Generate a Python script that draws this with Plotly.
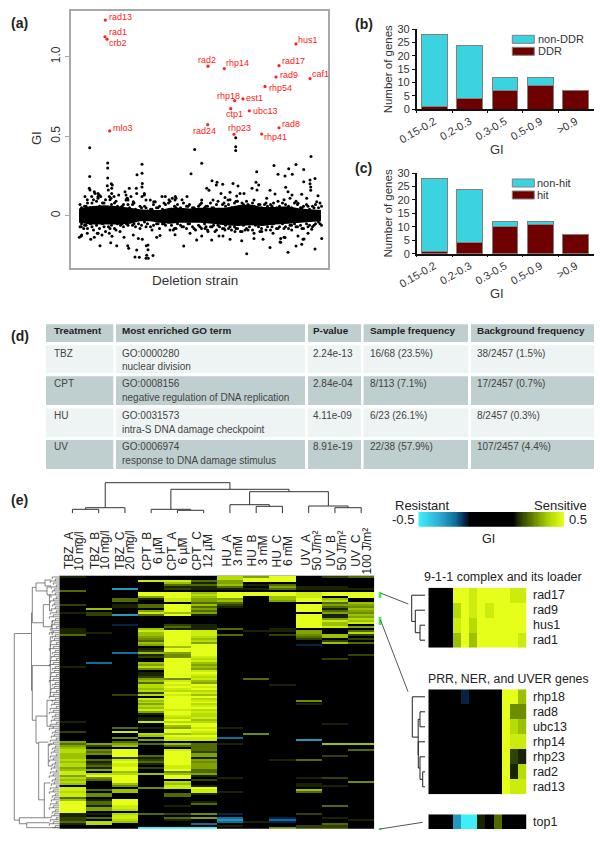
import numpy as np
import plotly.graph_objects as go

W, H = 600, 843
FONT = "Liberation Sans"

# ---------- (a) scatter data: strain position and GI ----------
labelled_genes = ["rad13","rad1","crb2","mlo3","rad2","rhp14","hus1","rad17","rad9","caf1","rhp54","rhp18","est1","ctp1","ubc13","rad8","rad24","rhp23","rhp41"]
labelled_x = [105.3,105,107,109.7,208,224.3,296,279,276,310,265,234.7,243,230.7,249.3,279,207.7,234,261.7]
labelled_gi = [1.23,1.125,1.11,0.533,0.94,0.925,1.08,0.943,0.872,0.862,0.813,0.723,0.734,0.673,0.659,0.553,0.572,0.512,0.513]

sparse_x = [89.7,107.7,107.7,89.7,107.3,111.3,194.7,201.7,235.7,235.7,235.7,311,191,142,142,137,274,296,288.7,292.3,303.7,278,285,256.7,256,258.7,303.7,315,310,310,310.7,310.7,318,
 107.7,112.3,142.3,142,136.3,129.3,111.7,89.3,108.3,90,94.3,95,111.7,144.3,125,136.7,126,144.3,91.7,99.3,118.7,114,98,100.7,98,127.3,131,127,126,109.3,111,85,87.3,165.3,175.3,176,187,162,128,133.3,150.3,153.7,169,172.3,146,155.3,142,175,206.7,209,212,217,216.3,222.7,233,238,252,257,221,230,240,244,270,275,285.7,288,292,301.7,306.7,316.7,228,225,201.7,213,236.7,254,266.7,298,
 81,135,146,153,148,148,183.7,246.7,315,288,270,296,301.7,304,280.7,280.7,285,79.3,81.7,83.7,81.3,87.3,90.7,94.3,97.3,100,102,109.3,110.7,116.7,120,124,127.7,128.7,133.3,138.3,139.3,148.3,146.7,146.3,136.7,142.3,156.7,173.3,196.7,201.7,208,211.7,215,219,223,230,241.7,254,263,280,284,298,303,321.7,308,273,235,225,245,261.7,291.7,311.7,205,190,175,160,112]
sparse_gi = [.427,.331,.30,.247,.188,.20,.416,.33,.49,.433,.41,.372,.264,.324,.266,.257,.316,.322,.295,.26,.29,.26,.25,.276,.21,.193,.213,.234,.224,.20,.18,.16,.125,
 .237,.193,.203,.18,.172,.172,.172,.172,.161,.161,.151,.14,.14,.14,.151,.14,.13,.13,.12,.13,.13,.12,.14,.12,.12,.11,.12,.11,.099,.12,.109,.12,.10,.12,.12,.109,.12,.12,.099,.088,.099,.088,.10,.109,.099,.088,.12,.099,.172,.16,.22,.21,.193,.197,.203,.187,.172,.161,.14,.147,.14,.14,.16,.136,.178,.15,.13,.134,.109,.088,.099,.115,.099,.099,.124,.099,.109,.078,
 -.13,-.26,-.268,-.25,-.215,-.185,-.19,-.24,-.21,-.23,-.2,-.19,-.18,-.146,-.167,-.144,-.138,-.136,-.122,-.08,-.07,-.111,-.149,-.136,-.111,-.189,-.122,-.111,-.17,-.189,-.10,-.136,-.189,-.205,-.122,-.143,-.262,-.268,-.249,-.189,-.216,-.149,-.136,-.09,-.153,-.128,-.10,-.153,-.10,-.128,-.128,-.149,-.157,-.143,-.149,-.166,-.136,-.128,-.149,-.143,-.111,-.11,-.10,-.09,-.09,-.10,-.09,-.086,-.08,-.11,-.12,-.125,-.13]

# dense core of the cloud: outline read along the strains
core_x = [79,90,105,118,130,140,150,160,170,180,190,200,212,225,238,250,262,275,288,300,310,321]
core_top = [.045,.06,.065,.06,.05,.04,.035,.035,.05,.05,.045,.05,.05,.05,.065,.07,.055,.055,.06,.045,.04,.035]
core_bottom = [-.045,-.055,-.055,-.055,-.05,-.035,-.035,-.045,-.05,-.045,-.045,-.045,-.05,-.06,-.065,-.06,-.065,-.055,-.05,-.045,-.04,-.035]

# fringe of the cloud, one reading per 6 / 3 strain-position units starting at 80 / 81.5
fringe_x_a = np.arange(80, 323, 6).tolist()
fringe_x_b = (np.arange(80, 323, 3) + 1.5).tolist()
fringe_up_a = [.07,.06,.08,.11,.08,.10,.09,.06,.07,.08,.06,.05,.04,.05,.08,.09,.05,.10,.06,.05,.07,.06,.05,.09,.08,.10,.09,.08,.07,.06,.07,.08,.06,.09,.10,.11,.09,.05,.06,.05,.08]
fringe_up_b = [.05,.06,.08,.05,.10,.09,.06,.08,.10,.05,.07,.08,.06,.05,.07,.04,.05,.07,.04,.03,.05,.06,.03,.04,.07,.05,.06,.04,.07,.08,.04,.06,.07,.05,.08,.06,.07,.05,.04,.06,.08,.05,.06,.08,.05,.07,.04,.07,.06,.07,.05,.08,.09,.06,.07,.09,.06,.08,.05,.07,.05,.07,.06,.07,.08,.05,.06,.08,.07,.06,.05,.08,.07,.05,.06,.07,.04,.06,.07,.05,.06]
fringe_dn_a = [-.07,-.06,-.07,-.11,-.07,-.08,-.09,-.05,-.06,-.05,-.08,-.07,-.09,-.05,-.05,-.09,-.08,-.07,-.05,-.08,-.07,-.07,-.07,-.06,-.08,-.07,-.08,-.10,-.09,-.11,-.10,-.09,-.07,-.08,-.08,-.06,-.07,-.08,-.07,-.06,-.05]
fringe_dn_b = [-.05,-.06,-.08,-.05,-.09,-.06,-.08,-.05,-.10,-.07,-.06,-.08,-.05,-.06,-.07,-.05,-.04,-.06,-.07,-.05,-.06,-.04,-.05,-.07,-.06,-.05,-.08,-.05,-.06,-.04,-.06,-.08,-.05,-.06,-.07,-.08,-.05,-.07,-.09,-.06,-.08,-.05,-.09,-.07,-.06,-.09,-.07,-.08,-.06,-.08,-.09,-.07,-.08,-.10,-.06,-.08,-.07,-.09,-.06,-.07,-.08,-.05,-.07,-.09,-.05,-.08,-.07,-.05,-.07,-.08,-.06,-.05,-.07,-.06,-.08,-.05,-.06,-.07,-.05,-.04,-.06]

# ---------- (b), (c) stacked bars ----------
gi_bins = ["0.15-0.2","0.2-0.3","0.3-0.5","0.5-0.9",">0.9"]
ddr = [1,4,7,9,7]
non_ddr = [27,20,5,3,0]
hit = [1,4,10,11,7]
non_hit = [27,20,2,1,0]

# ---------- (d) table ----------
table_head = ["Treatment","Most enriched GO term","P-value","Sample frequency","Background frequency"]
treatments = ["TBZ","CPT","HU","UV"]
go_ids = ["GO:0000280","GO:0008156","GO:0031573","GO:0006974"]
go_terms = ["nuclear division","negative regulation of DNA replication","intra-S DNA damage checkpoint","response to DNA damage stimulus"]
p_values = ["2.24e-13","2.84e-04","4.11e-09","8.91e-19"]
sample_freq = ["16/68 (23.5%)","8/113 (7.1%)","6/23 (26.1%)","22/38 (57.9%)"]
background_freq = ["38/2457 (1.5%)","17/2457 (0.7%)","8/2457 (0.3%)","107/2457 (4.4%)"]

# ---------- (e) heat maps: one character per cell, see GI_LEVEL ----------
GI_LEVEL = {"0":0,"1":.18,"2":.21,"3":.26,"4":.30,"5":.33,"6":.37,"7":.41,"8":.45,"9":.5,"a":-.18,"b":-.25,"c":-.32,"d":-.5}
col_names = ["TBZ_A","TBZ_B","TBZ_C","CPT_B","CPT_A","CPT_C","HU_A","HU_B","HU_C","UV_A","UV_B","UV_C"]
col_doses = ["10 mg/l","10 mg/l","20 mg/l","6 µM","6 µM","12 µM","3 mM","3 mM","6 mM","50 J/m²","50 J/m²","100 J/m²"]
heat_rows = [
"100000759023","000000799000","000883599000","000061500000","000033613000","000011305110","00c021113111","300000000000",
"000996999899","000997999899","000596906809","003185506960","003085605970","000003300036","201396200955","001393100934",
"060095000916","000593000935","120865000054","02c391000916","000000000915","000000000957","000000000986","000000000968",
"00a021000960","000031000985","100611301000","100898011503","110698000507","300698302462","000597000360","000496000202",
"000397000020","000695000063","000599000a00","000069000000","000199000000","000299000000","00b659000000","000149000002",
"000248000000","000097000020","000098000000","0b0696000000","000595000000","100796000000","000495000000","000098000000",
"000199000000","000198000000","000297000000","000548030000","000686000000","000395000000","000789001000","000798000000",
"000689000000","000777000000","000298000000","002786000000","000099000000","000897000000","000698000400","000799000000",
"000597000100","000798000000","000699000000","000887000000","000598000000","000197000000","000087000000","000178000000",
"000196000000","100877000000","000099000010","000069000000","003158100000","000099000000","208098000000","000767040000",
"000699000000","004088b00000","000588000c00","503000000000","355363100066","526033000000","600003000000","749083000003",
"739092000000","649095000000","609395000020","602191000000","738295001300","619394000000","728195000000","738085000000",
"519285000000","659093000000","806043000000","877665000000","599091000000","749090100120","639002000000","709070000004",
"606060000100","004081000110","800489000000","836008000600","706008100300","840031000000","840030000000","300000000000",
"619000000000","939001000000","939003000000","918010000030","958000000000","957000000000","900000000000","117324a00200",
"108000000000","238035b0a010","207010c0b001","376000b1a000","17000b000030","000000100220","000ddd004220",
]
cluster1_genes = ["rad17","rad9","hus1","rad1"]
cluster1_rows = ["000998999988","000798989999","000897999999","000696999998"]
cluster2_genes = ["rhp18","rad8","ubc13","rhp14","rhp23","rad2","rad13"]
cluster2_rows = ["0000a0000996","000000000944","000000000976","000000000988","000000000921","000000000917","000000000988"]
cluster3_genes = ["top1"]
cluster3_rows = ["000cdd103000"]
scale_values = np.linspace(-.5, .5, 121).tolist()   # colour key

# dendrograms: (node, node, height); new nodes are numbered after the leaves
col_merges = [(0,1,4),(12,2,5.6),(4,5,3),(3,14,4),(7,8,7),(6,16,8.6),(10,11,5.6),(9,18,7.3),(17,19,21.6),(15,20,24),(13,21,30.6)]
cluster1_merges = [(2,3,5),(1,4,9.7),(0,5,13.3)]
cluster2_merges = [(1,2,5),(5,6,2.3),(4,8,5),(3,9,6.7),(7,10,6.8),(0,11,12.7)]
# row dendrogram branches: row_a, row_b, height, child height a, child height b
row_branches = [(28.4,122.2,45,27.8,40),(18,57,27.8,27,27),(5.2,23,27,23.3,16),(3,7,23.3,14.3,12.3),(1.5,4.5,14.3,8,8),(5,9,12.3,8,8),
 (13.9,25,16,9.8,7.3),(10,17,9.8,7,7),(22,29,7.3,6,6),(44.5,72,27,9,23.3),(30,60,9,7,7),(69.9,83.5,23.3,12.3,20.6),(62,75,12.3,6,6),
 (83,112,20.6,11,15),(84,95,11,7,7),(103.5,121,15,9,8),(121,124,40,15,32.6),(123.5,126,32.6,10,0)]
row_leaf_depth = "6385274639258463728593647285936472859364728593647285936472859364728593647285936472859364728593647285936472859364728593647285936"

SCALE = [[0,"#40EEFA"],[.15,"#2BA8D0"],[.25,"#0F6F9A"],[.33,"#041838"],[.35,"#000000"],[.65,"#000000"],[.7,"#2A3A00"],[.8,"#6D8C00"],[.9,"#B0D800"],[1,"#E6FF1A"]]

def xp(x): return x / W
def yp(y): return 1 - y / H

layout = dict(width=W, height=H, autosize=False, margin=dict(l=0, r=0, t=0, b=0, pad=0), paper_bgcolor="white", plot_bgcolor="white",
              showlegend=False, barmode="stack", font=dict(family=FONT, size=12, color="#222"), annotations=[], shapes=[],
              coloraxis=dict(cmin=-.5, cmax=.5, colorscale=SCALE, showscale=False))
traces = []
counter = [1]

def make_axes(box, xr, yr, **kw):
    counter[0] += 1
    n = counter[0]
    l, t, r, b = box
    xa = dict(domain=[xp(l), xp(r)], range=xr, anchor=f"y{n}", visible=False, fixedrange=True, automargin=False)
    ya = dict(domain=[yp(b), yp(t)], range=yr, anchor=f"x{n}", visible=False, fixedrange=True, automargin=False)
    xa.update(kw.get("x", {})); ya.update(kw.get("y", {}))
    layout[f"xaxis{n}"] = xa; layout[f"yaxis{n}"] = ya
    return f"x{n}", f"y{n}"

def note(text, x, y, size=12, color="#222", xanchor="left", angle=0, bold=False, yanchor="middle"):
    layout["annotations"].append(dict(text=f"<b>{text}</b>" if bold else text, x=xp(x), y=yp(y), xref="paper", yref="paper", showarrow=False,
                                      xanchor=xanchor, yanchor=yanchor, textangle=angle, borderpad=0, borderwidth=0,
                                      font=dict(size=size, color=color, family=FONT)))

def rect(l, t, r, b, fill, line=None):
    layout["shapes"].append(dict(type="rect", xref="paper", yref="paper", x0=xp(l), x1=xp(r), y0=yp(b), y1=yp(t), fillcolor=fill,
                                 line=dict(width=1 if line else 0, color=line or fill), layer="below"))

def seg(x0, y0, x1, y1, color="#444", width=1):
    layout["shapes"].append(dict(type="line", xref="paper", yref="paper", x0=xp(x0), x1=xp(x1), y0=yp(y0), y1=yp(y1), line=dict(color=color, width=width)))

def dendro_paths(n_leaves, merges):
    pos = {i: float(i) for i in range(n_leaves)}
    hgt = {i: 0.0 for i in range(n_leaves)}
    p, h = [], []
    for k, (a, b, d) in enumerate(merges):
        p += [pos[a], pos[a], pos[b], pos[b], None]
        h += [hgt[a], d, d, hgt[b], None]
        pos[n_leaves + k] = (pos[a] + pos[b]) / 2
        hgt[n_leaves + k] = d
    return p, h

def decode(rows):
    return [[GI_LEVEL[c] for c in r.ljust(12, "0")[:12]] for r in rows]

# ---------- panel (a) ----------
frame = dict(visible=True, showline=True, linecolor="#a8a8a8", linewidth=2, mirror=True, showgrid=False, zeroline=False)
xa, ya = make_axes((71, 11, 328, 268), [71, 328], [-.329, 1.287],
                   x=dict(**frame, showticklabels=False, ticks=""),
                   y=dict(**frame, tickvals=[0, .5, 1], ticktext=["0", "0.5", "1.0"], tickangle=-90, ticks="outside", ticklen=4, tickcolor="#a8a8a8",
                          tickfont=dict(size=12, color="#333")))
traces.append(go.Scatter(x=core_x + core_x[::-1], y=core_top + core_bottom[::-1], fill="toself", fillcolor="black", mode="none", xaxis=xa, yaxis=ya))
dots_x = sparse_x + fringe_x_a + fringe_x_b + fringe_x_a + fringe_x_b
dots_y = sparse_gi + fringe_up_a + fringe_up_b + fringe_dn_a + fringe_dn_b
traces.append(go.Scatter(x=dots_x, y=dots_y, mode="markers", marker=dict(color="black", size=3), xaxis=xa, yaxis=ya))
traces.append(go.Scatter(x=labelled_x, y=labelled_gi, mode="markers", marker=dict(color="#FF2020", size=3.2), text=labelled_genes, xaxis=xa, yaxis=ya))
label_pos = {"rad13":(109,17.3),"rad1":(109,31.7),"crb2":(109,42.7),"hus1":(298,40),"rad2":(198,60),"rhp14":(226,62.7),"rad17":(282,61.3),"rad9":(279.7,75.3),
             "caf1":(311.7,73.7),"rhp54":(268.7,87.7),"rhp18":(216.7,96),"est1":(245.7,98),"ctp1":(225.7,114.3),"ubc13":(252.7,110.7),"rad8":(282.3,123.7),
             "rad24":(192.7,131),"rhp23":(228,128.3),"rhp41":(264,137),"mlo3":(113,127.7)}
for g in labelled_genes:
    note(g, label_pos[g][0], label_pos[g][1], size=9, color="#FF2020")
note("GI", 36, 138, size=13, angle=-90, xanchor="center", color="#333")
note("Deletion strain", 195, 280, size=13.5, xanchor="center", color="#333")
note("(a)", 11, 23, size=14, bold=True)

# ---------- panels (b), (c) ----------
def bar_panel(top, bottom, under, over, under_name, over_name, letter, ltop, gi_y, ly, lty):
    black = dict(visible=True, showline=True, linecolor="#111", linewidth=1.5, showgrid=False, zeroline=False, tickcolor="#111", ticks="outside", tickwidth=1)
    xa, ya = make_axes((416.7, top, 593.5, bottom), [-.5, 4.5], [0, 30],
                       x=dict(**black, type="category", ticklen=2, tickson="boundaries", tickangle=-30, tickfont=dict(size=11, color="#333")),
                       y=dict(**black, ticklen=3, tickvals=[0, 5, 10, 15, 20, 25, 30], tickfont=dict(size=11, color="#333")))
    outline = dict(color="#808080", width=1)
    traces.append(go.Bar(x=gi_bins, y=under, name=under_name, marker=dict(color="#6E0000", line=outline), width=.727, xaxis=xa, yaxis=ya))
    traces.append(go.Bar(x=gi_bins, y=over, name=over_name, marker=dict(color="#3BD3E0", line=outline), width=.727, xaxis=xa, yaxis=ya))
    note("Number of genes", 387.7, (top + bottom) / 2 + .5, size=11.5, angle=-90, xanchor="center", color="#333")
    note("GI", 497, gi_y, size=13, xanchor="center", color="#333")
    note(letter, 354.5, ltop, size=14, bold=True)
    rect(512.3, ly, 534.3, ly + 8, "#3BD3E0", "#808080")
    rect(512.3, ly + 12, 534.3, ly + 20, "#6E0000", "#808080")
    note(over_name, lty, ly + 4, size=11, color="#333")
    note(under_name, lty, ly + 16, size=11, color="#333")

bar_panel(29, 109.3, ddr, non_ddr, "DDR", "non-DDR", "(b)", 24, 149, 35.3, 537.7)
bar_panel(173, 253.7, hit, non_hit, "hit", "non-hit", "(c)", 168, 293, 179, 536.7)

# ---------- panel (d) ----------
col_edges = [(46, 113.3), (116, 305), (308, 361), (363.6, 468), (471, 594)]
col_text = [53.6, 122, 313.4, 369.7, 476.5]
head_band = (324.2, 342.1)
row_bands = [(345.2, 373.1), (376.2, 405), (408.4, 437), (440, 469)]
line1_y = [353.2, 383.5, 415.6, 447]
line2_y = [366.3, 397.3, 429.4, 460.8]
for (l, r), xt, h in zip(col_edges, col_text, table_head):
    rect(l, head_band[0], r, head_band[1], "#BFCFCF")
    note(h, xt, 331, size=9.9, bold=True, color="#222")
for i, (t, b) in enumerate(row_bands):
    for l, r in col_edges:
        rect(l, t, r, b, "#EEF3F3" if i % 2 == 0 else "#BFCFCF")
    cells = [treatments[i], go_ids[i], p_values[i], sample_freq[i], background_freq[i]]
    for xt, c in zip(col_text, cells):
        note(c, xt, line1_y[i], size=10, color="#444")
    note(go_terms[i], col_text[1], line2_y[i], size=10, color="#444")
note("(d)", 11, 336, size=14, bold=True)

# ---------- panel (e) main heat map ----------
HL, HR, HT, HB = 59.3, 374.3, 576, 828.7
n_rows = len(heat_rows)
xa, ya = make_axes((HL, HT, HR, HB), [-.5, 11.5], [n_rows - .5, -.5])
traces.append(go.Heatmap(z=decode(heat_rows), coloraxis="coloraxis", xaxis=xa, yaxis=ya))
seg(HL, HT - .5, HR, HT - .5, "#bbbbbb", 1)

# column dendrogram
xa, ya = make_axes((HL, 482, HR, 513.3), [-.5, 11.5], [0, 31.3])
p, h = dendro_paths(12, col_merges)
traces.append(go.Scatter(x=p, y=h, mode="lines", line=dict(color="#333", width=1), xaxis=xa, yaxis=ya))

# row dendrogram
xa, ya = make_axes((0, HT, HL, HB), [HL, 0], [n_rows - .5, -.5])
rx, ry = [], []
for ra, rb, d, da, db in row_branches:
    rx += [da, d, d, db, None]; ry += [ra, ra, rb, rb, None]
traces.append(go.Scatter(x=rx, y=ry, mode="lines", line=dict(color="#666", width=.8), xaxis=xa, yaxis=ya))
lx, ly = [], []
for i, d in enumerate(row_leaf_depth[:n_rows]):
    v = int(d) + 1
    lx += [0, v, v, None]; ly += [i, i, min(i + 1, n_rows - 1), None]
traces.append(go.Scatter(x=lx, y=ly, mode="lines", line=dict(color="#555", width=.7), xaxis=xa, yaxis=ya))

# column labels
line1_x = [68.3,94.3,120,146.7,171.7,196.7,226.7,251.7,276.7,306,330.7,356]
line2_x = [79,105,130,157.3,182.7,208,237.3,262.7,287.3,316.7,341.7,366.7]
for a, b, xa1, xa2 in zip(col_names, col_doses, line1_x, line2_x):
    note(a, xa1, 550.7, size=12, angle=-90, xanchor="center", color="#222")
    note(b, xa2, 550.7, size=12, angle=-90, xanchor="center", color="#222")
note("(e)", 11, 500, size=14, bold=True)

# colour key and its texts
xa, ya = make_axes((418.3, 512, 564, 526.7), [-.5, 120.5], [-.5, .5])
traces.append(go.Heatmap(z=[scale_values], coloraxis="coloraxis", xaxis=xa, yaxis=ya))
note("Resistant", 395, 505.7, size=13, color="#222")
note("Sensitive", 534.3, 505.7, size=13, color="#222")
note("-0.5", 392, 519, size=13, color="#222")
note("0.5", 569, 519, size=13, color="#222")
note("GI", 488.3, 539, size=12.5, xanchor="center", color="#222")

# sub heat maps
def sub_heat(rows, genes, top, row_h, merges=None):
    bottom = top + row_h * len(rows)
    xa, ya = make_axes((428.3, top, 526.7, bottom), [-.5, 11.5], [len(rows) - .5, -.5])
    traces.append(go.Heatmap(z=decode(rows), coloraxis="coloraxis", xaxis=xa, yaxis=ya))
    for i, g in enumerate(genes):
        note(g, 532.7, top + row_h * (i + .5), size=12.5, color="#222")
    if merges:
        xa, ya = make_axes((410, top, 425, bottom), [15, 0], [len(rows) - .5, -.5])
        p, h = dendro_paths(len(rows), merges)
        traces.append(go.Scatter(x=h, y=p, mode="lines", line=dict(color="#222", width=1), xaxis=xa, yaxis=ya))

sub_heat(cluster1_rows, cluster1_genes, 587.7, 15, cluster1_merges)
sub_heat(cluster2_rows, cluster2_genes, 689.3, 15, cluster2_merges)
sub_heat(cluster3_rows, cluster3_genes, 814.3, 14.7)
note("9-1-1 complex and its loader", 424, 577.3, size=12.5)
note("PRR, NER, and UVER genes", 428.3, 679, size=12.3)

# green markers and connectors
rect(378.7, 592, 381.3, 598, "#39EE45")
rect(378.7, 617, 381.3, 625, "#39EE45")
rect(378.7, 828, 381.3, 830, "#39EE45")
seg(381, 593.3, 408.3, 604, "#555", 1)
seg(380.5, 620, 408, 691.7, "#555", 1)
seg(380, 829, 422.7, 822.3, "#555", 1)

fig = go.Figure(data=traces, layout=layout)
fig.write_html("out.html", config={"displayModeBar": False}, post_script="document.body.style.margin='0';document.documentElement.style.overflow='hidden';")
